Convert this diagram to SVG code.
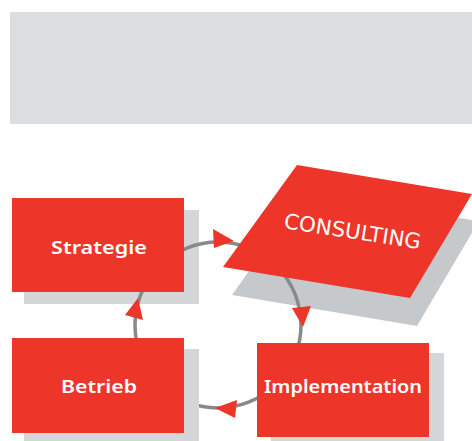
<svg xmlns="http://www.w3.org/2000/svg" width="472" height="441" viewBox="0 0 472 441">
<style>
.box{fill:#ee3529}
.sh{fill:#d4d6d8}
.sh2{fill:#c6c9cb}
.lbl{fill:#ffffff;font-family:"Noto Sans","DejaVu Sans","Liberation Sans",sans-serif;font-weight:600;font-size:17px;text-anchor:middle}
.cons{fill:#ffffff;font-family:"DejaVu Sans Condensed","DejaVu Sans",sans-serif;font-size:21px;text-anchor:middle}
.arc{fill:none;stroke:#87898b;stroke-width:3.5}
.head{fill:#ee3529}
</style>
<rect x="10" y="12" width="462" height="112" fill="#dcdddf"/>
<g id="shadows-back">
<rect class="sh" x="24" y="210" width="175" height="94"/>
<polygon class="sh2" points="304,193 479,221 417,326 232,295"/>
</g>
<g id="connectors">
<circle class="arc" cx="218" cy="325" r="83"/>
</g>
<g id="node-betrieb">
<rect class="sh" x="24" y="349" width="175" height="100"/>
<rect class="box" x="12" y="338" width="172" height="95"/>
<text class="lbl" x="99" y="393" textLength="76" lengthAdjust="spacingAndGlyphs">Betrieb</text>
</g>
<g id="node-implementation">
<rect class="sh" x="271" y="353" width="173" height="96"/>
<rect class="box" x="257" y="343" width="172" height="94"/>
<text class="lbl" x="343" y="393" textLength="158" lengthAdjust="spacingAndGlyphs">Implementation</text>
</g>
<g id="node-strategie">
<rect class="box" x="12" y="198" width="172" height="94"/>
<text class="lbl" x="99" y="254" textLength="96" lengthAdjust="spacingAndGlyphs">Strategie</text>
</g>
<g id="node-consulting">
<polygon class="box" points="297,165 472,194 410,298 223,267"/>
<text class="cons" x="351.5" y="238.5" transform="rotate(8.7 351.5 238.5)" textLength="138" lengthAdjust="spacingAndGlyphs">CONSULTING</text>
</g>
<g id="arrowheads">
<polygon class="head" points="213,229 214,248 234,241"/>
<polygon class="head" points="292,308 311,306 303,327"/>
<polygon class="head" points="215,408 237,400 235,418"/>
<polygon class="head" points="138,298 125,315 143,320"/>
</g>
</svg>
